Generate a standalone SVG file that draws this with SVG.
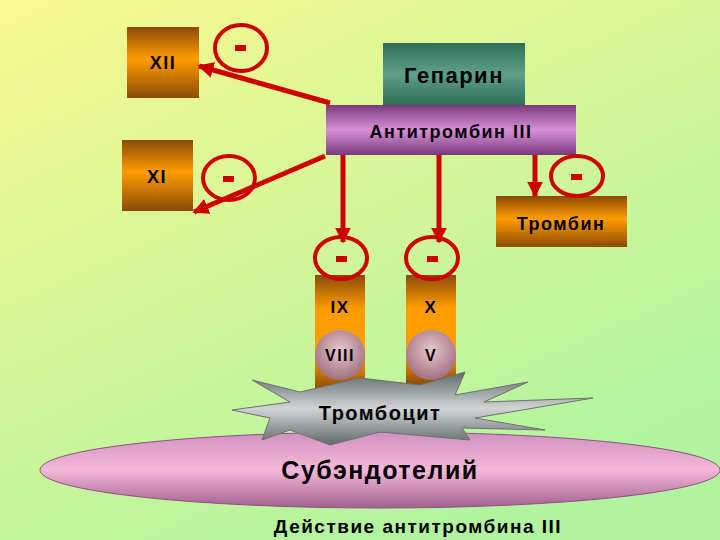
<svg xmlns="http://www.w3.org/2000/svg" width="720" height="540" viewBox="0 0 720 540">
<defs>
<linearGradient id="bg" x1="0" y1="0" x2="0.6" y2="1"><stop offset="0" stop-color="#f8f890"/><stop offset="1" stop-color="#b0f4a0"/></linearGradient>
<linearGradient id="or" x1="0" y1="0" x2="0" y2="1"><stop offset="0" stop-color="#8a4a08"/><stop offset="0.45" stop-color="#ff9c00"/><stop offset="1" stop-color="#8a4a08"/></linearGradient>
<linearGradient id="orv" x1="0" y1="0" x2="0" y2="1"><stop offset="0" stop-color="#8a4a08"/><stop offset="0.3" stop-color="#ff9c00"/><stop offset="0.7" stop-color="#ff9c00"/><stop offset="1" stop-color="#8a4a08"/></linearGradient>
<linearGradient id="te" x1="0" y1="0" x2="0" y2="1"><stop offset="0" stop-color="#2f6e5a"/><stop offset="0.5" stop-color="#5fa08a"/><stop offset="1" stop-color="#2f6e5a"/></linearGradient>
<linearGradient id="pu" x1="0" y1="0" x2="0" y2="1"><stop offset="0" stop-color="#7a3a7a"/><stop offset="0.5" stop-color="#d890d8"/><stop offset="1" stop-color="#7a3a7a"/></linearGradient>
<radialGradient id="ci" cx="0.5" cy="0.4" r="0.6"><stop offset="0" stop-color="#e8c8d0"/><stop offset="1" stop-color="#a07080"/></radialGradient>
<linearGradient id="gr" x1="0" y1="0" x2="0" y2="1"><stop offset="0" stop-color="#606868"/><stop offset="0.5" stop-color="#d0d4d4"/><stop offset="1" stop-color="#606868"/></linearGradient>
<linearGradient id="pk" x1="0" y1="0" x2="0" y2="1"><stop offset="0" stop-color="#d090c0"/><stop offset="0.5" stop-color="#f4b8d8"/><stop offset="1" stop-color="#a06090"/></linearGradient>
<marker id="ah" viewBox="0 0 10 10" refX="9" refY="5" markerWidth="3.2" markerHeight="3.2" orient="auto"><path d="M0,0L10,5L0,10z" fill="#cc0000"/></marker>
<style>
.t{font-family:"Liberation Sans",Arial,sans-serif;font-weight:bold;fill:#000;text-anchor:middle;letter-spacing:1.5px}
.ar{stroke:#cc0000;stroke-width:5;fill:none;marker-end:url(#ah)}
.ne{fill:none;stroke:#cc0000;stroke-width:4}
.m{fill:#cc0000}
</style>
</defs>
<rect width="720" height="540" fill="url(#bg)"/>
<g id="subendothelium"><ellipse cx="380" cy="470" rx="340" ry="38" fill="url(#pk)" stroke="#905080" stroke-width="1"/><text class="t" x="380" y="479" font-size="25">Субэндотелий</text></g>
<g id="col-ix"><rect x="315" y="275" width="50" height="115" fill="url(#orv)"/><text class="t" x="340" y="313" font-size="17" letter-spacing="0">IX</text><circle cx="340" cy="355" r="25" fill="url(#ci)"/><text class="t" x="340" y="361" font-size="16" letter-spacing="0">VIII</text></g>
<g id="col-x"><rect x="406" y="275" width="50" height="110" fill="url(#orv)"/><text class="t" x="431" y="313" font-size="17" letter-spacing="0">X</text><circle cx="431" cy="355" r="25" fill="url(#ci)"/><text class="t" x="431" y="361" font-size="16" letter-spacing="0">V</text></g>
<g id="platelet"><polygon points="252,380 300,392 360,378 420,385 465,372 455,395 528,382 484,402 593,398 475,418 545,430 462,428 470,440 380,432 330,445 290,430 262,440 270,418 232,410 290,402" fill="url(#gr)" stroke="#707070"/><text class="t" x="380" y="420" font-size="20">Тромбоцит</text></g>
<g id="xii"><rect x="127" y="27" width="72" height="71" fill="url(#or)"/><text class="t" x="163" y="69" font-size="18" letter-spacing="0">XII</text></g>
<g id="xi"><rect x="122" y="140" width="71" height="71" fill="url(#or)"/><text class="t" x="157" y="183" font-size="18" letter-spacing="0">XI</text></g>
<g id="heparin"><rect x="383" y="43" width="142" height="62" fill="url(#te)"/><text class="t" x="454" y="83" font-size="22">Гепарин</text></g>
<g id="antithrombin"><rect x="326" y="105" width="250" height="50" fill="url(#pu)"/><text class="t" x="451" y="138" font-size="18">Антитромбин III</text></g>
<g id="thrombin"><rect x="496" y="196" width="131" height="51" fill="url(#or)"/><text class="t" x="561" y="230" font-size="18">Тромбин</text></g>
<g id="connectors">
<line class="ar" x1="330" y1="103" x2="199" y2="66"/>
<line class="ar" x1="325" y1="156" x2="194" y2="212"/>
<line class="ar" x1="343" y1="155" x2="343" y2="242"/>
<line class="ar" x1="439" y1="155" x2="439" y2="242"/>
<line class="ar" x1="535" y1="155" x2="535" y2="196"/>
</g>
<g id="inhib">
<ellipse class="ne" cx="241" cy="48" rx="26" ry="23"/><rect class="m" x="235" y="45" width="11" height="6"/>
<ellipse class="ne" cx="229" cy="178" rx="26" ry="22"/><rect class="m" x="223" y="176" width="11" height="6"/>
<ellipse class="ne" cx="577" cy="176" rx="26" ry="20"/><rect class="m" x="571" y="174" width="11" height="6"/>
<ellipse class="ne" cx="341" cy="258" rx="26" ry="21"/><rect class="m" x="336" y="256" width="11" height="6"/>
<ellipse class="ne" cx="432" cy="258" rx="26" ry="21"/><rect class="m" x="427" y="256" width="11" height="6"/>
</g>
<text class="t" x="418" y="533" font-size="19" letter-spacing="0.8">Действие антитромбина III</text>
</svg>
